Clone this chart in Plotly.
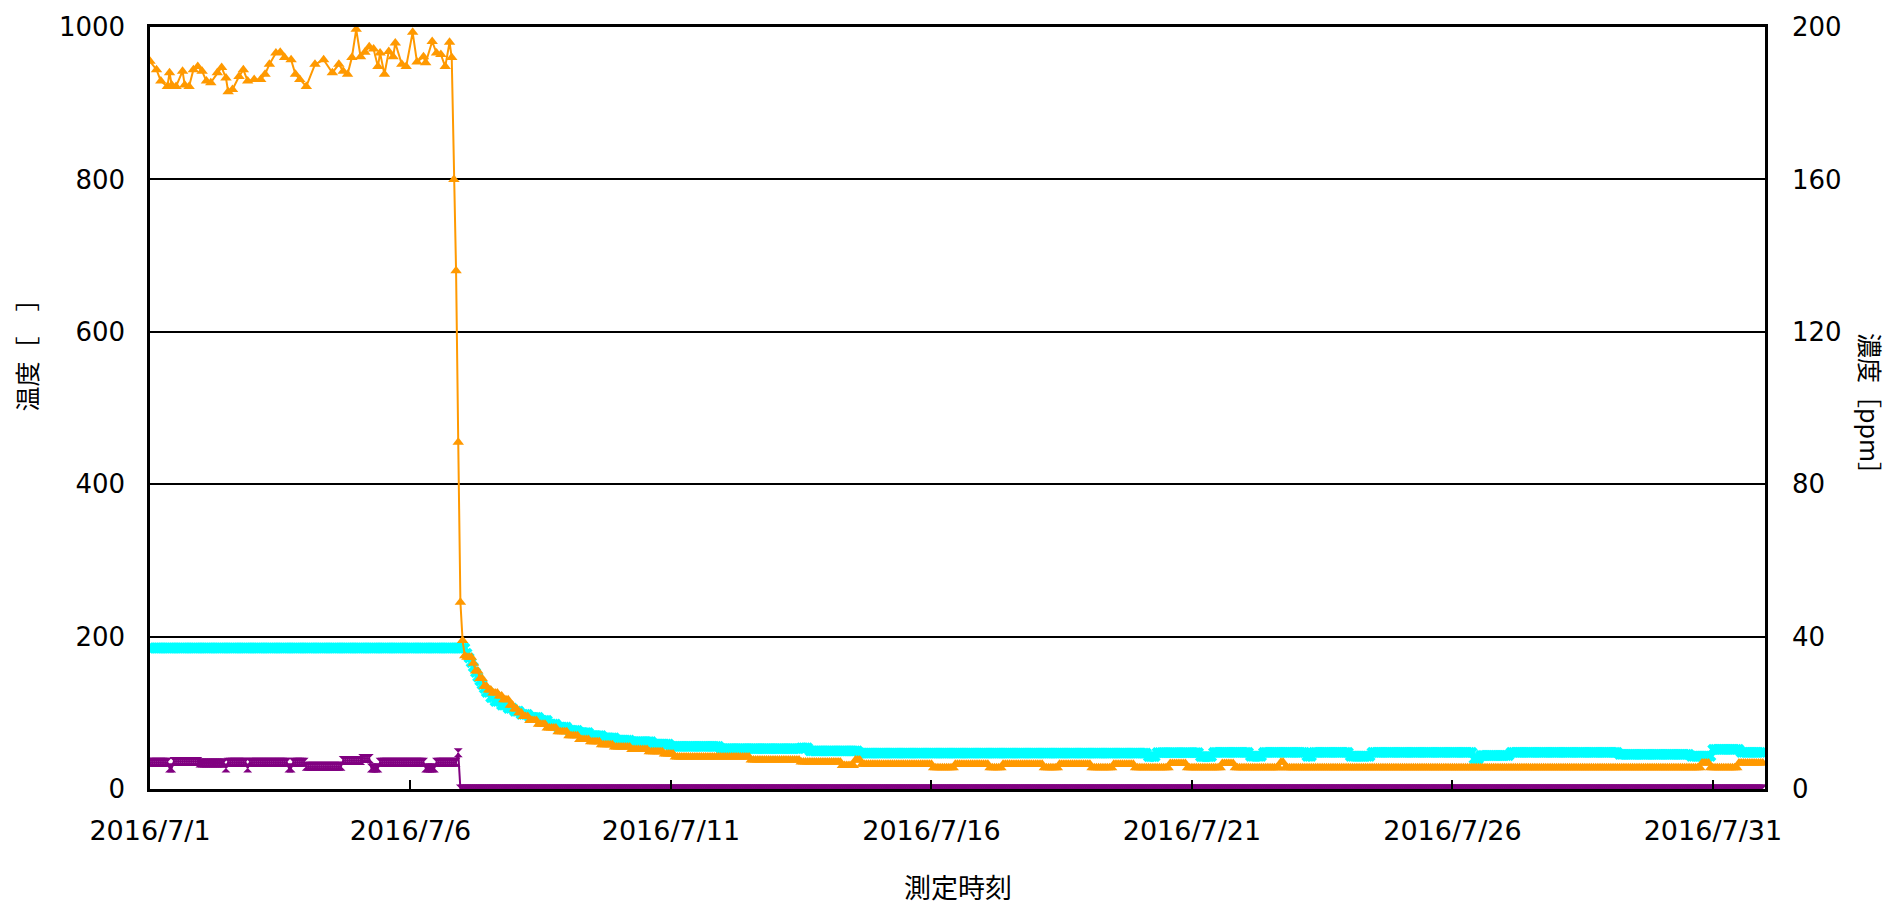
import pandas as pd
import plotly.graph_objects as go

START = pd.Timestamp("2016-07-01 00:00")

# x-axis tick labels (every 5 days)
tick_dates = ["2016-07-01", "2016-07-06", "2016-07-11", "2016-07-16",
              "2016-07-21", "2016-07-26", "2016-07-31"]
tick_text = ["2016/7/1", "2016/7/6", "2016/7/11", "2016/7/16",
             "2016/7/21", "2016/7/26", "2016/7/31"]

# Orange (temperature, left axis) before the drop: hour offset -> value
orange_pre_hours = [0, 3, 5, 8, 9, 10, 12, 15, 16, 18, 20, 22, 24, 26, 28, 31, 33, 35, 36, 38,
                    41, 43, 45, 48, 51, 53, 55, 58, 60, 62, 65, 67, 69, 72, 76, 80, 84, 87, 89,
                    91, 93, 95, 97, 99, 101, 103, 105, 106, 108, 110, 112, 113, 116, 118, 121,
                    123, 126, 127, 130, 132, 134, 136, 138, 139]
orange_pre_values = [955, 944, 929, 922, 940, 924, 922, 942, 924, 922, 944, 948, 942, 929, 927,
                     940, 947, 933, 915, 918, 935, 944, 929, 931, 931, 938, 951, 966, 967, 960,
                     957, 938, 931, 922, 951, 957, 940, 951, 942, 938, 960, 997, 961, 967, 974,
                     971, 948, 966, 938, 968, 961, 979, 951, 948, 993, 954, 961, 953, 981, 966,
                     964, 948, 980, 960]
# hourly values during the fall (hours 140..143)
orange_drop_values = [800, 680, 455, 245]
# after the drop, hourly runs of [value, hours] starting at hour 144
orange_tail_runs = [[195, 1], [175, 1], [173, 3], [165, 1], [155, 2], [145, 2], [135, 2], [130, 2],
                    [126, 3], [122, 2], [117, 3], [110, 2], [105, 2], [100, 2], [95, 3], [90, 4],
                    [85, 4], [80, 5], [75, 5], [70, 5], [65, 5], [62, 5], [58, 6], [55, 8], [52, 8],
                    [49, 7], [46, 5], [42, 35], [38, 23], [35.5, 19], [31, 6], [38, 3], [32.5, 33],
                    [28, 10], [32.5, 16], [28, 6], [32.5, 19], [28, 7], [32.5, 15], [28, 10],
                    [32.5, 10], [28, 16], [33.5, 8], [28, 16], [33.5, 6], [28, 21], [35, 2],
                    [28, 192], [34, 4], [28, 13], [34, 12]]

# Cyan (left axis), hourly runs of [value, hours] from hour 0
cyan_runs = [[185, 146], [178, 1], [172, 1], [166, 1], [160, 1], [153, 1], [147, 1], [142, 1],
             [137, 1], [132, 1], [127, 2], [120, 2], [115, 3], [110, 3], [106, 3], [102, 3],
             [98, 4], [94, 5], [90, 4], [85, 4], [81, 5], [77, 5], [74, 5], [70, 6], [67, 6],
             [64, 7], [62, 10], [59, 8], [56, 23], [53, 37], [54, 4], [50, 23], [47, 133],
             [42.5, 4], [47.7, 20], [42.5, 6], [48, 17], [43, 6], [48, 20], [43, 3], [48, 17],
             [43, 10], [48, 47], [39.5, 3], [44, 14], [48, 50], [45.5, 33], [43, 10], [52, 13],
             [48, 11]]

# Purple (concentration ppm, right axis), hourly runs of [value, hours] from hour 0
purple_runs = [[7.0, 9], [5.5, 2], [7.2, 12], [6.8, 12], [5.5, 1], [7.0, 9], [5.5, 1], [7.0, 18],
               [5.5, 2], [7.0, 6], [6.0, 17], [7.5, 9], [8.0, 4], [5.5, 4], [7.0, 21], [5.5, 5],
               [7.0, 10], [9.5, 1], [0, 601]]


def expand(runs, start_hour=0):
    hours, vals = [], []
    h = start_hour
    for v, n in runs:
        for _ in range(n):
            hours.append(h)
            vals.append(v)
            h += 1
    return hours, vals


def to_time(hours):
    return [START + pd.Timedelta(hours=h) for h in hours]


t_hours, t_vals = expand(orange_tail_runs, 144)
orange_hours = orange_pre_hours + [140, 141, 142, 143] + t_hours
orange_vals = orange_pre_values + orange_drop_values + t_vals
orange_hours, orange_vals = zip(*[(h, v) for h, v in zip(orange_hours, orange_vals) if h < 744])

cyan_hours, cyan_vals = expand(cyan_runs)
purple_hours, purple_vals = expand(purple_runs)

ORANGE = "#FF9900"
CYAN = "#00FFFF"
PURPLE = "#800080"

fig = go.Figure()
fig.add_trace(go.Scatter(x=to_time(cyan_hours), y=cyan_vals, mode="lines+markers",
                         line=dict(color=CYAN, width=2),
                         marker=dict(symbol="x", size=10, color=CYAN),
                         yaxis="y", showlegend=False))
fig.add_trace(go.Scatter(x=to_time(list(orange_hours)), y=list(orange_vals), mode="lines+markers",
                         line=dict(color=ORANGE, width=2),
                         marker=dict(symbol="triangle-up", size=10, color=ORANGE),
                         yaxis="y", showlegend=False))
fig.add_trace(go.Scatter(x=to_time(purple_hours), y=purple_vals, mode="lines+markers",
                         line=dict(color=PURPLE, width=2),
                         marker=dict(symbol="hourglass", size=9, color=PURPLE),
                         yaxis="y2", showlegend=False))

xtick_font = dict(family="DejaVu Sans", size=27, color="black")
ytick_font = dict(family="DejaVu Sans", size=26, color="black")
title_font = dict(family="Noto Sans CJK JP", size=25, color="black")

fig.update_layout(
    width=1890, height=907,
    margin=dict(l=150, r=125, t=22, b=118),
    paper_bgcolor="white", plot_bgcolor="white",
    xaxis=dict(type="date", range=["2016-07-01", "2016-08-01"],
               tickvals=tick_dates, ticktext=tick_text,
               ticks="inside", ticklen=9, tickwidth=2, tickcolor="black",
               showline=True, linecolor="black", linewidth=2.5, mirror=True,
               showgrid=False, zeroline=False, tickfont=xtick_font,
               ticklabelstandoff=16),
    yaxis=dict(range=[0, 1000], tickvals=[0, 200, 400, 600, 800, 1000],
               ticks="inside", ticklen=8, tickwidth=2, tickcolor="black",
               showline=True, linecolor="black", linewidth=2.5, mirror=True,
               showgrid=True, gridcolor="black", gridwidth=1.5, zeroline=False,
               tickfont=ytick_font, ticklabelstandoff=17),
    yaxis2=dict(range=[0, 200], tickvals=[0, 40, 80, 120, 160, 200],
                overlaying="y", side="right",
                ticks="inside", ticklen=8, tickwidth=2, tickcolor="black",
                showline=True, linecolor="black", linewidth=2.5,
                showgrid=False, zeroline=False, tickfont=ytick_font,
                ticklabelstandoff=19),
    annotations=[
        dict(text="温度［　］", xref="paper", yref="paper", x=-0.0768, y=0.578,
             xanchor="center", yanchor="middle", textangle=-90, showarrow=False,
             font=title_font),
        dict(text="濃度［ppm］", xref="paper", yref="paper", x=1.066, y=0.498,
             xanchor="center", yanchor="middle", textangle=90, showarrow=False,
             font=title_font),
        dict(text="測定時刻", xref="paper", yref="paper", x=0.5, y=-0.128,
             xanchor="center", yanchor="middle", showarrow=False,
             font=dict(family="Noto Sans CJK JP", size=27, color="black")),
    ],
)

fig.write_html("out.html", config={"displayModeBar": False},
               post_script="document.body.style.margin='0';")
